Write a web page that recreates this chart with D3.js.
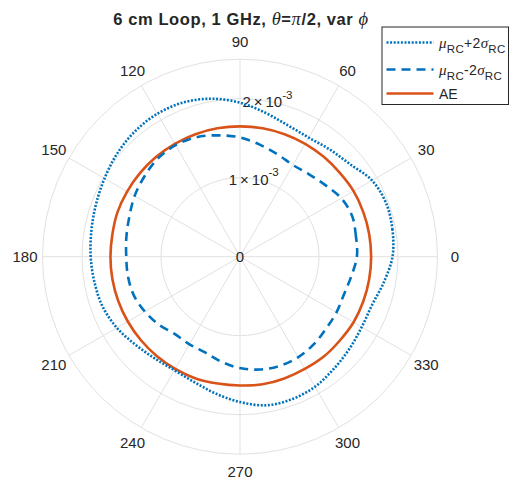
<!DOCTYPE html>
<html><head><meta charset="utf-8">
<script src="https://cdn.jsdelivr.net/npm/d3@7"></script>
<style>
body{margin:0;background:#fff;}
text{font-family:"Liberation Sans",Arial,sans-serif;fill:#262626;}
</style>
</head><body><svg id="c" width="510" height="482"></svg>
<script>
// angles in degrees (phi)
const angles = [0,10,20,30,40,50,60,70,80,90,100,110,120,130,140,150,160,170,
                180,190,200,210,220,230,240,250,260,270,280,290,300,310,320,330,340,350];
// mu_RC + 2 sigma_RC
const muPlus = [1.93e-3,1.96e-3,1.97e-3,1.93e-3,1.82e-3,1.77e-3,1.74e-3,1.77e-3,1.85e-3,1.95e-3,
                2.03e-3,2.08e-3,2.09e-3,2.07e-3,2.03e-3,1.98e-3,1.94e-3,1.91e-3,
                1.89e-3,1.87e-3,1.85e-3,1.80e-3,1.73e-3,1.68e-3,1.66e-3,1.69e-3,1.76e-3,1.84e-3,
                1.91e-3,1.92e-3,1.90e-3,1.85e-3,1.81e-3,1.78e-3,1.78e-3,1.85e-3];
// mu_RC - 2 sigma_RC
const muMinus = [1.48e-3,1.49e-3,1.51e-3,1.48e-3,1.41e-3,1.36e-3,1.34e-3,1.38e-3,1.44e-3,1.51e-3,
                 1.56e-3,1.61e-3,1.63e-3,1.62e-3,1.58e-3,1.54e-3,1.49e-3,1.46e-3,
                 1.44e-3,1.44e-3,1.43e-3,1.39e-3,1.34e-3,1.28e-3,1.28e-3,1.29e-3,1.35e-3,1.41e-3,
                 1.45e-3,1.47e-3,1.47e-3,1.45e-3,1.42e-3,1.41e-3,1.40e-3,1.43e-3];
// analytical estimate
const aeVals = [1.66e-3,1.66e-3,1.66e-3,1.66e-3,1.65e-3,1.65e-3,1.65e-3,1.65e-3,1.65e-3,1.65e-3,
                1.65e-3,1.65e-3,1.65e-3,1.65e-3,1.65e-3,1.65e-3,1.65e-3,1.64e-3,
                1.64e-3,1.64e-3,1.64e-3,1.64e-3,1.64e-3,1.64e-3,1.64e-3,1.64e-3,1.63e-3,1.63e-3,
                1.64e-3,1.64e-3,1.64e-3,1.65e-3,1.65e-3,1.66e-3,1.66e-3,1.66e-3];
const thetaTicks = [0,30,60,90,120,150,180,210,240,270,300,330];
const rTicks = [0,1e-3,2e-3];
const rMax = 2.5e-3;

const svg = d3.select("#c");
const cx = 240, cy = 256.7;
const r = d3.scaleLinear().domain([0, rMax]).range([0, 197.5]);
const toRad = d => (90 - d) * Math.PI / 180; // d3 radial angle (0 = up, clockwise)

const g = svg.append("g").attr("transform", `translate(${cx},${cy})`);
const gridCol = "#e1e1e1";
const serif = "'Liberation Serif','Times New Roman',serif";

// circles
[1e-3, 2e-3, rMax].forEach(v => {
  g.append("circle").attr("r", r(v)).attr("fill","none")
    .attr("stroke", gridCol).attr("stroke-width", 1);
});
// spokes
thetaTicks.forEach(t => {
  const a = t * Math.PI / 180;
  g.append("line").attr("x1",0).attr("y1",0)
    .attr("x2", r(rMax)*Math.cos(a)).attr("y2", -r(rMax)*Math.sin(a))
    .attr("stroke", gridCol).attr("stroke-width", 1);
});

// theta labels
thetaTicks.forEach(t => {
  const a = t * Math.PI / 180, rr = r(rMax) + 17.5;
  g.append("text").attr("x", rr*Math.cos(a)).attr("y", -rr*Math.sin(a))
    .attr("text-anchor","middle").attr("dominant-baseline","central")
    .attr("font-size", 15).text(t);
});

// r tick labels at 80 deg
const rAng = 80 * Math.PI / 180;
rTicks.forEach(v => {
  const t = g.append("text").attr("x", r(v)*Math.cos(rAng)).attr("y", -r(v)*Math.sin(rAng))
    .attr("text-anchor","middle").attr("dominant-baseline","central").attr("font-size",15);
  if (v === 0) { t.text("0"); return; }
  const mant = Math.round(v / 1e-3);
  t.append("tspan").text(mant + "\u2009\u00d7\u200910");
  t.append("tspan").attr("font-size", 11.5).attr("dy", -6.5).text("-3");
});

// curves
const line = d3.lineRadial().curve(d3.curveCatmullRomClosed.alpha(0.5));
function pts(vals){ return angles.map((a,i) => [toRad(a), r(vals[i])]); }

g.append("path").attr("d", line(pts(aeVals))).attr("fill","none")
  .attr("stroke","#D95319").attr("stroke-width",2.6);
g.append("path").attr("d", line(pts(muMinus))).attr("fill","none")
  .attr("stroke","#0072BD").attr("stroke-width",2.6).attr("stroke-dasharray","9,6");
g.append("path").attr("d", line(pts(muPlus))).attr("fill","none")
  .attr("stroke","#0072BD").attr("stroke-width",2.6).attr("stroke-dasharray","2,1.6");

// title
const title = svg.append("text").attr("x", 241).attr("y", 25).attr("text-anchor","middle")
  .attr("font-size", 16.5).attr("font-weight","bold").attr("letter-spacing", 0.6);
title.append("tspan").text("6 cm Loop, 1 GHz, ");
title.append("tspan").attr("font-style","italic").attr("font-family",serif).attr("font-weight","normal").attr("font-size",18.5).text("\u03b8");
title.append("tspan").text("=");
title.append("tspan").attr("font-style","italic").attr("font-family",serif).attr("font-weight","normal").attr("font-size",18.5).text("\u03c0");
title.append("tspan").text("/2, var ");
title.append("tspan").attr("font-style","italic").attr("font-family",serif).attr("font-weight","normal").attr("font-size",18.5).text("\u03d5");

// legend
const lg = svg.append("g");
lg.append("rect").attr("x",382).attr("y",27).attr("width",126.5).attr("height",77.5)
  .attr("fill","#fff").attr("stroke","#262626").attr("stroke-width",1);
const legItems = [
  {y:42.5, dash:"2,1.6", col:"#0072BD", label:"+2"},
  {y:69.5, dash:"9,6", col:"#0072BD", label:"-2"},
  {y:93.5, dash:null, col:"#D95319", label:"AE"}
];
legItems.forEach(it => {
  const l = lg.append("line").attr("x1",386.5).attr("x2",433.5).attr("y1",it.y).attr("y2",it.y)
    .attr("stroke", it.col).attr("stroke-width",2.6);
  if (it.dash) l.attr("stroke-dasharray", it.dash);
  if (it.label === "AE") {
    lg.append("text").attr("x",439).attr("y",it.y).attr("dominant-baseline","central")
      .attr("font-size",14).text("AE");
    return;
  }
  const t = lg.append("text").attr("x",439).attr("y",it.y + 5).attr("font-size",14)
    .attr("letter-spacing", 0.3);
  t.append("tspan").attr("font-style","italic").attr("font-family",serif).attr("font-size",15).text("\u03bc");
  t.append("tspan").attr("font-size",11.5).attr("dy",5).text("RC");
  t.append("tspan").attr("dy",-5).text(it.label);
  t.append("tspan").attr("font-style","italic").attr("font-family",serif).attr("font-size",15).text("\u03c3");
  t.append("tspan").attr("font-size",11.5).attr("dy",5).text("RC");
});
</script>
</body></html>
